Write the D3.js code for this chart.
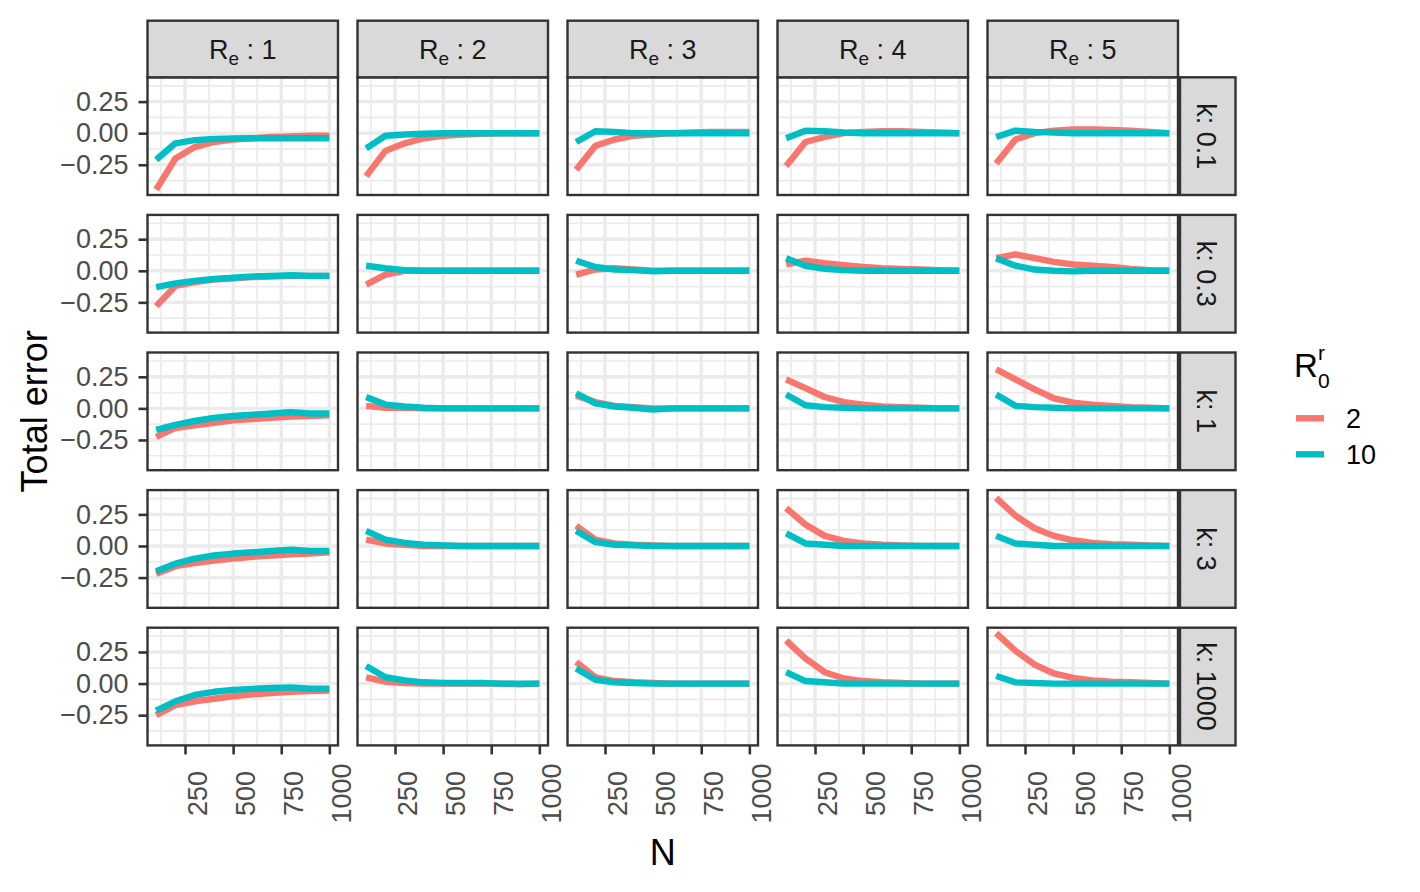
<!DOCTYPE html>
<html>
<head>
<meta charset="utf-8">
<script src="https://cdn.jsdelivr.net/npm/d3@7"></script>
<style>
  html, body { margin: 0; padding: 0; background: #ffffff; }
  text { font-family: "Liberation Sans", Arial, Helvetica, sans-serif; }
</style>
</head>
<body>
<script>
// ---------------- data ----------------
const N = [100, 200, 300, 400, 500, 600, 700, 800, 900, 1000];
const reLevels = [1, 2, 3, 4, 5];
const kLevels = ["0.1", "0.3", "1", "3", "1000"];
const r0Levels = ["2", "10"];
const yTicks = [-0.25, 0, 0.25];
const yMinor = [-0.375, -0.125, 0.125, 0.375];
const xTicks = [250, 500, 750, 1000];
const xMinor = [125, 375, 625, 875];

// Total error by k (rows), R0^r (series); each array holds one list per Re = 1..5
const k01_r2 = [
  [-0.447, -0.20, -0.11, -0.07, -0.05, -0.04, -0.03, -0.025, -0.02, -0.02],
  [-0.34, -0.14, -0.08, -0.04, -0.02, -0.01, -0.005, 0, 0, 0],
  [-0.29, -0.10, -0.05, -0.02, -0.01, 0, 0.005, 0.01, 0.01, 0.01],
  [-0.26, -0.07, -0.03, 0, 0.01, 0.015, 0.015, 0.01, 0.005, 0],
  [-0.24, -0.05, 0, 0.02, 0.03, 0.03, 0.025, 0.02, 0.01, 0]
];
const k01_r10 = [
  [-0.21, -0.08, -0.055, -0.045, -0.042, -0.04, -0.04, -0.04, -0.04, -0.04],
  [-0.12, -0.02, -0.01, -0.005, 0, 0, 0, 0, 0, 0],
  [-0.07, 0.015, 0.01, 0, 0, 0, 0, 0, 0, 0],
  [-0.04, 0.02, 0.015, 0.005, 0, 0, 0, 0, 0, 0],
  [-0.03, 0.02, 0.01, 0.005, 0, 0, 0, 0, 0, 0]
];
const k03_r2 = [
  [-0.28, -0.12, -0.09, -0.07, -0.06, -0.05, -0.045, -0.04, -0.04, -0.04],
  [-0.11, -0.03, 0, 0, 0, 0, 0, 0, 0, 0],
  [-0.03, 0.01, 0.02, 0.01, 0, 0, 0, 0, 0, 0],
  [0.05, 0.08, 0.06, 0.045, 0.03, 0.02, 0.015, 0.01, 0.005, 0],
  [0.10, 0.13, 0.10, 0.07, 0.05, 0.04, 0.03, 0.015, 0.005, 0]
];
const k03_r10 = [
  [-0.13, -0.10, -0.08, -0.065, -0.055, -0.045, -0.04, -0.035, -0.04, -0.04],
  [0.04, 0.02, 0.005, 0, 0, 0, 0, 0, 0, 0],
  [0.08, 0.03, 0.01, 0.005, -0.005, 0, 0, 0, 0, 0],
  [0.10, 0.04, 0.015, 0.005, 0, 0, 0, 0, 0, 0],
  [0.10, 0.04, 0.01, 0, -0.005, 0, 0, 0, 0, 0]
];
const k1_r2 = [
  [-0.225, -0.155, -0.135, -0.115, -0.095, -0.085, -0.075, -0.065, -0.06, -0.055],
  [0.02, 0.005, 0.005, 0, 0, 0, 0, 0, 0, 0],
  [0.10, 0.05, 0.02, 0.01, 0, 0, 0, 0, 0, 0],
  [0.23, 0.16, 0.09, 0.05, 0.03, 0.015, 0.01, 0.005, 0, 0],
  [0.31, 0.23, 0.15, 0.08, 0.045, 0.03, 0.02, 0.01, 0.005, 0]
];
const k1_r10 = [
  [-0.17, -0.13, -0.10, -0.075, -0.06, -0.05, -0.04, -0.03, -0.04, -0.04],
  [0.09, 0.03, 0.015, 0.005, 0, 0, 0, 0, 0, 0],
  [0.12, 0.04, 0.015, 0.005, -0.01, 0, 0, 0, 0, 0],
  [0.11, 0.025, 0.01, 0.005, 0, 0, 0, 0, 0, 0],
  [0.11, 0.02, 0.01, 0.005, 0, 0, 0, 0, 0, 0]
];
const k3_r2 = [
  [-0.22, -0.16, -0.135, -0.115, -0.10, -0.085, -0.075, -0.065, -0.06, -0.05],
  [0.05, 0.02, 0.01, 0, 0, 0, 0, 0, 0, 0],
  [0.16, 0.05, 0.02, 0.01, 0.005, 0, 0, 0, 0, 0],
  [0.30, 0.17, 0.08, 0.04, 0.02, 0.01, 0.005, 0, 0, 0],
  [0.38, 0.24, 0.14, 0.08, 0.045, 0.025, 0.015, 0.01, 0.005, 0]
];
const k3_r10 = [
  [-0.20, -0.14, -0.10, -0.075, -0.06, -0.05, -0.04, -0.03, -0.04, -0.04],
  [0.12, 0.05, 0.025, 0.01, 0.005, 0, 0, 0, 0, 0],
  [0.12, 0.03, 0.01, 0.005, 0, 0, 0, 0, 0, 0],
  [0.10, 0.02, 0.01, 0, 0, 0, 0, 0, 0, 0],
  [0.08, 0.02, 0.01, 0, 0, 0, 0, 0, 0, 0]
];
const k1000_r2 = [
  [-0.25, -0.17, -0.14, -0.12, -0.10, -0.085, -0.075, -0.065, -0.06, -0.055],
  [0.05, 0.015, 0.005, 0, 0, 0, 0, 0, -0.005, 0],
  [0.17, 0.05, 0.02, 0.01, 0.005, 0, 0, 0, 0, 0],
  [0.34, 0.20, 0.09, 0.04, 0.02, 0.01, 0.005, 0, 0, 0],
  [0.40, 0.26, 0.15, 0.08, 0.045, 0.025, 0.015, 0.01, 0.005, 0]
];
const k1000_r10 = [
  [-0.215, -0.14, -0.09, -0.065, -0.05, -0.042, -0.035, -0.03, -0.04, -0.04],
  [0.14, 0.05, 0.025, 0.01, 0.005, 0.005, 0.005, 0, 0, 0],
  [0.12, 0.03, 0.01, 0.005, 0, 0, 0, 0, 0, 0],
  [0.09, 0.02, 0.01, 0, 0, 0, 0, 0, 0, 0],
  [0.06, 0.01, 0.005, 0, 0, 0, 0, 0, 0, 0]
];

const rowsR2 = [k01_r2, k03_r2, k1_r2, k3_r2, k1000_r2];
const rowsR10 = [k01_r10, k03_r10, k1_r10, k3_r10, k1000_r10];
const seriesColors = ["#F8766D", "#00BFC4"];

// ---------------- layout ----------------
const W = 1420, H = 892;
const panelLeft0 = 147.5, panelW = 190.5, colPitch = 210;
const panelTop0 = 77.3, panelH = 117.7, rowPitch = 137.6;
const stripTop = 20.7, stripH = panelTop0 - stripTop;
const rStripX = 1180, rStripW = 55.5;

const svg = d3.select("body").append("svg").attr("width", W).attr("height", H);
svg.append("rect").attr("width", W).attr("height", H).attr("fill", "#ffffff");

const allVals = [];
[rowsR2, rowsR10].forEach(s => s.forEach(r => r.forEach(a => a.forEach(v => allVals.push(v)))));
const [ymin, ymax] = d3.extent(allVals);
const yPad = (ymax - ymin) * 0.05;
const xPad = (d3.max(N) - d3.min(N)) * 0.05;

const x = d3.scaleLinear().domain([d3.min(N) - xPad, d3.max(N) + xPad]).range([0, panelW]);
const y = d3.scaleLinear().domain([ymin - yPad, ymax + yPad]).range([panelH, 0]);

const line = d3.line().x((d, i) => x(N[i])).y(d => y(d));

const gridCol = "#EBEBEB", borderCol = "#333333";
const fontFam = '"Liberation Sans", Arial, sans-serif';

kLevels.forEach((kv, ri) => {
  const top = panelTop0 + ri * rowPitch;
  reLevels.forEach((re, ci) => {
    const left = panelLeft0 + ci * colPitch;
    const g = svg.append("g").attr("transform", `translate(${left},${top})`);
    g.append("rect").attr("width", panelW).attr("height", panelH).attr("fill", "#ffffff");
    // minor grid
    g.selectAll(".ymin").data(yMinor).enter().append("line")
      .attr("x1", 0).attr("x2", panelW).attr("y1", d => y(d)).attr("y2", d => y(d))
      .attr("stroke", gridCol).attr("stroke-width", 1.7);
    g.selectAll(".xmin").data(xMinor).enter().append("line")
      .attr("y1", 0).attr("y2", panelH).attr("x1", d => x(d)).attr("x2", d => x(d))
      .attr("stroke", gridCol).attr("stroke-width", 1.7);
    // major grid
    g.selectAll(".ymaj").data(yTicks).enter().append("line")
      .attr("x1", 0).attr("x2", panelW).attr("y1", d => y(d)).attr("y2", d => y(d))
      .attr("stroke", gridCol).attr("stroke-width", 3.4);
    g.selectAll(".xmaj").data(xTicks).enter().append("line")
      .attr("y1", 0).attr("y2", panelH).attr("x1", d => x(d)).attr("x2", d => x(d))
      .attr("stroke", gridCol).attr("stroke-width", 3.4);
    // series
    [rowsR2[ri][ci], rowsR10[ri][ci]].forEach((vals, si) => {
      g.append("path").attr("d", line(vals)).attr("fill", "none")
        .attr("stroke", seriesColors[si]).attr("stroke-width", 6.4)
        .attr("stroke-linejoin", "round").attr("stroke-linecap", "butt");
    });
    g.append("rect").attr("width", panelW).attr("height", panelH)
      .attr("fill", "none").attr("stroke", borderCol).attr("stroke-width", 2.4);

    // y axis for first column
    if (ci === 0) {
      const ax = g.append("g").call(d3.axisLeft(y).tickValues(yTicks).tickSize(9).tickPadding(10)
        .tickFormat(d => (d < 0 ? "\u2212" : "") + Math.abs(d).toFixed(2)));
      ax.select(".domain").remove();
      ax.selectAll("line").attr("stroke", borderCol).attr("stroke-width", 2.6);
      ax.selectAll("text").attr("fill", "#4D4D4D").attr("font-size", 27)
        .attr("font-family", fontFam);
    }
    // x axis for last row
    if (ri === kLevels.length - 1) {
      const ax = g.append("g").attr("transform", `translate(0,${panelH})`)
        .call(d3.axisBottom(x).tickValues(xTicks).tickSize(9).tickFormat(d3.format("d")));
      ax.select(".domain").remove();
      ax.selectAll("line").attr("stroke", borderCol).attr("stroke-width", 2.6);
      ax.selectAll("text")
        .attr("x", null).attr("y", null).attr("dy", null)
        .attr("text-anchor", "middle")
        .attr("transform", `translate(21.5,48) rotate(-90)`)
        .attr("fill", "#4D4D4D").attr("font-size", 27)
        .attr("font-family", fontFam);
    }
  });
  // right strip
  svg.append("rect").attr("x", rStripX).attr("y", top).attr("width", rStripW).attr("height", panelH)
    .attr("fill", "#D9D9D9").attr("stroke", borderCol).attr("stroke-width", 2.4);
  svg.append("text")
    .attr("transform", `translate(${rStripX + 17},${top + panelH / 2}) rotate(90)`)
    .attr("text-anchor", "middle").attr("font-size", 27).attr("fill", "#1A1A1A")
    .text("k: " + kv);
});

// top strips
reLevels.forEach((re, ci) => {
  const left = panelLeft0 + ci * colPitch;
  svg.append("rect").attr("x", left).attr("y", stripTop).attr("width", panelW).attr("height", stripH)
    .attr("fill", "#D9D9D9").attr("stroke", borderCol).attr("stroke-width", 2.4);
  const t = svg.append("text").attr("x", left + panelW / 2).attr("y", 59)
    .attr("text-anchor", "middle").attr("font-size", 27).attr("fill", "#1A1A1A");
  t.append("tspan").text("R");
  t.append("tspan").attr("font-size", 19).attr("dy", 6).text("e");
  t.append("tspan").attr("dy", -6).text(" : " + re);
});

// axis titles
svg.append("text").attr("x", panelLeft0 + (4 * colPitch + panelW) / 2).attr("y", 865)
  .attr("text-anchor", "middle").attr("font-size", 36).attr("fill", "#000").text("N");
svg.append("text")
  .attr("transform", `translate(47,${(panelTop0 + panelTop0 + 4 * rowPitch + panelH) / 2}) rotate(-90)`)
  .attr("text-anchor", "middle").attr("font-size", 36).attr("fill", "#000").text("Total error");

// legend
const lg = svg.append("g");
const title = lg.append("text").attr("x", 1294).attr("y", 377).attr("font-size", 33).attr("fill", "#000");
title.append("tspan").text("R");
title.append("tspan").attr("x", 1318).attr("y", 360).attr("font-size", 21).text("r");
title.append("tspan").attr("x", 1318).attr("y", 388).attr("font-size", 21).text("0");
r0Levels.forEach((lab, i) => {
  const cy = 418.3 + i * 36;
  lg.append("line").attr("x1", 1296).attr("x2", 1324).attr("y1", cy).attr("y2", cy)
    .attr("stroke", seriesColors[i]).attr("stroke-width", 6.4);
  lg.append("text").attr("x", 1346).attr("y", cy + 10).attr("font-size", 27).attr("fill", "#000").text(lab);
});
</script>
</body>
</html>
